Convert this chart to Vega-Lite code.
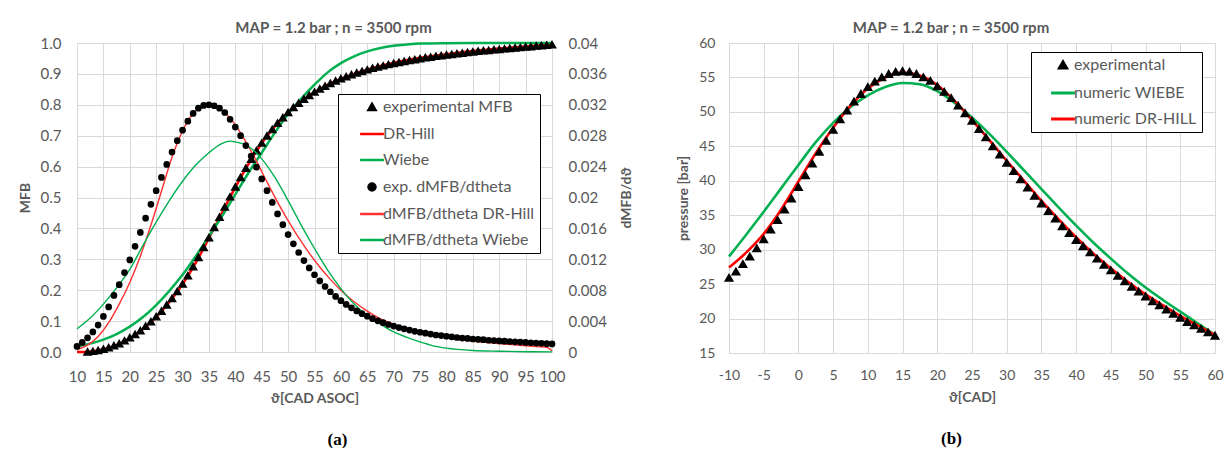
{
"$schema": "https://vega.github.io/schema/vega-lite/v6.json",
"background": "white",
"padding": {"left": 17, "top": 20, "right": 0, "bottom": 0},
"config": {
  "font": "Lato",
  "view": {"stroke": "#D9D9D9", "strokeWidth": 1},
  "axis": {"grid": true, "gridColor": "#D9D9D9", "gridWidth": 1, "ticks": false, "domain": false, "labelColor": "#595959", "labelFont": "Lato", "titleColor": "#595959", "titleFont": "Lato", "titleFontWeight": "bold", "labelOverlap": false, "labelFlush": false},
  "concat": {"spacing": 41},
  "title": {"font": "Lato", "fontSize": 15, "fontWeight": "bold", "color": "#595959", "anchor": "middle"}
},
"datasets": {
  "mfbExp": [
    {"s":"experimental MFB","t":12,"v":0.000},{"s":"experimental MFB","t":13,"v":0.002},{"s":"experimental MFB","t":14,"v":0.005},{"s":"experimental MFB","t":15,"v":0.009},{"s":"experimental MFB","t":16,"v":0.014},{"s":"experimental MFB","t":17,"v":0.020},{"s":"experimental MFB","t":18,"v":0.027},{"s":"experimental MFB","t":19,"v":0.036},{"s":"experimental MFB","t":20,"v":0.046},{"s":"experimental MFB","t":21,"v":0.057},{"s":"experimental MFB","t":22,"v":0.069},{"s":"experimental MFB","t":23,"v":0.083},{"s":"experimental MFB","t":24,"v":0.098},{"s":"experimental MFB","t":25,"v":0.114},{"s":"experimental MFB","t":26,"v":0.132},{"s":"experimental MFB","t":27,"v":0.152},{"s":"experimental MFB","t":28,"v":0.173},{"s":"experimental MFB","t":29,"v":0.196},{"s":"experimental MFB","t":30,"v":0.220},{"s":"experimental MFB","t":31,"v":0.247},{"s":"experimental MFB","t":32,"v":0.276},{"s":"experimental MFB","t":33,"v":0.306},{"s":"experimental MFB","t":34,"v":0.338},{"s":"experimental MFB","t":35,"v":0.370},{"s":"experimental MFB","t":36,"v":0.403},{"s":"experimental MFB","t":37,"v":0.436},{"s":"experimental MFB","t":38,"v":0.469},{"s":"experimental MFB","t":39,"v":0.502},{"s":"experimental MFB","t":40,"v":0.534},{"s":"experimental MFB","t":41,"v":0.565},{"s":"experimental MFB","t":42,"v":0.595},{"s":"experimental MFB","t":43,"v":0.624},{"s":"experimental MFB","t":44,"v":0.651},{"s":"experimental MFB","t":45,"v":0.676},{"s":"experimental MFB","t":46,"v":0.699},{"s":"experimental MFB","t":47,"v":0.720},{"s":"experimental MFB","t":48,"v":0.740},{"s":"experimental MFB","t":49,"v":0.758},{"s":"experimental MFB","t":50,"v":0.775},{"s":"experimental MFB","t":51,"v":0.791},{"s":"experimental MFB","t":52,"v":0.805},{"s":"experimental MFB","t":53,"v":0.818},{"s":"experimental MFB","t":54,"v":0.830},{"s":"experimental MFB","t":55,"v":0.841},{"s":"experimental MFB","t":56,"v":0.851},{"s":"experimental MFB","t":57,"v":0.860},{"s":"experimental MFB","t":58,"v":0.869},{"s":"experimental MFB","t":59,"v":0.877},{"s":"experimental MFB","t":60,"v":0.884},{"s":"experimental MFB","t":61,"v":0.891},{"s":"experimental MFB","t":62,"v":0.897},{"s":"experimental MFB","t":63,"v":0.903},{"s":"experimental MFB","t":64,"v":0.908},{"s":"experimental MFB","t":65,"v":0.913},{"s":"experimental MFB","t":66,"v":0.918},{"s":"experimental MFB","t":67,"v":0.922},{"s":"experimental MFB","t":68,"v":0.926},{"s":"experimental MFB","t":69,"v":0.930},{"s":"experimental MFB","t":70,"v":0.934},{"s":"experimental MFB","t":71,"v":0.937},{"s":"experimental MFB","t":72,"v":0.940},{"s":"experimental MFB","t":73,"v":0.943},{"s":"experimental MFB","t":74,"v":0.946},{"s":"experimental MFB","t":75,"v":0.949},{"s":"experimental MFB","t":76,"v":0.952},{"s":"experimental MFB","t":77,"v":0.954},{"s":"experimental MFB","t":78,"v":0.957},{"s":"experimental MFB","t":79,"v":0.959},{"s":"experimental MFB","t":80,"v":0.961},{"s":"experimental MFB","t":81,"v":0.963},{"s":"experimental MFB","t":82,"v":0.965},{"s":"experimental MFB","t":83,"v":0.967},{"s":"experimental MFB","t":84,"v":0.969},{"s":"experimental MFB","t":85,"v":0.971},{"s":"experimental MFB","t":86,"v":0.973},{"s":"experimental MFB","t":87,"v":0.975},{"s":"experimental MFB","t":88,"v":0.976},{"s":"experimental MFB","t":89,"v":0.978},{"s":"experimental MFB","t":90,"v":0.979},{"s":"experimental MFB","t":91,"v":0.981},{"s":"experimental MFB","t":92,"v":0.982},{"s":"experimental MFB","t":93,"v":0.984},{"s":"experimental MFB","t":94,"v":0.985},{"s":"experimental MFB","t":95,"v":0.987},{"s":"experimental MFB","t":96,"v":0.988},{"s":"experimental MFB","t":97,"v":0.990},{"s":"experimental MFB","t":98,"v":0.991},{"s":"experimental MFB","t":99,"v":0.993},{"s":"experimental MFB","t":100,"v":0.994}
  ],
  "mfbFit": [
    {"s":"DR-Hill","t":10,"v":0.000},{"s":"DR-Hill","t":12,"v":0.001},{"s":"DR-Hill","t":14,"v":0.005},{"s":"DR-Hill","t":16,"v":0.013},{"s":"DR-Hill","t":18,"v":0.026},{"s":"DR-Hill","t":20,"v":0.044},{"s":"DR-Hill","t":22,"v":0.067},{"s":"DR-Hill","t":24,"v":0.096},{"s":"DR-Hill","t":26,"v":0.131},{"s":"DR-Hill","t":28,"v":0.172},{"s":"DR-Hill","t":30,"v":0.219},{"s":"DR-Hill","t":32,"v":0.274},{"s":"DR-Hill","t":34,"v":0.336},{"s":"DR-Hill","t":36,"v":0.402},{"s":"DR-Hill","t":38,"v":0.468},{"s":"DR-Hill","t":40,"v":0.533},{"s":"DR-Hill","t":42,"v":0.594},{"s":"DR-Hill","t":44,"v":0.650},{"s":"DR-Hill","t":46,"v":0.699},{"s":"DR-Hill","t":48,"v":0.740},{"s":"DR-Hill","t":50,"v":0.775},{"s":"DR-Hill","t":52,"v":0.805},{"s":"DR-Hill","t":54,"v":0.830},{"s":"DR-Hill","t":56,"v":0.851},{"s":"DR-Hill","t":58,"v":0.869},{"s":"DR-Hill","t":60,"v":0.884},{"s":"DR-Hill","t":62.5,"v":0.900},{"s":"DR-Hill","t":65,"v":0.914},{"s":"DR-Hill","t":67.5,"v":0.926},{"s":"DR-Hill","t":70,"v":0.936},{"s":"DR-Hill","t":75,"v":0.952},{"s":"DR-Hill","t":80,"v":0.964},{"s":"DR-Hill","t":85,"v":0.974},{"s":"DR-Hill","t":90,"v":0.982},{"s":"DR-Hill","t":95,"v":0.989},{"s":"DR-Hill","t":100,"v":0.995},
    {"s":"Wiebe","t":10,"v":0.018},{"s":"Wiebe","t":12.5,"v":0.027},{"s":"Wiebe","t":15,"v":0.040},{"s":"Wiebe","t":17.5,"v":0.058},{"s":"Wiebe","t":20,"v":0.082},{"s":"Wiebe","t":22.5,"v":0.113},{"s":"Wiebe","t":25,"v":0.152},{"s":"Wiebe","t":27.5,"v":0.198},{"s":"Wiebe","t":30,"v":0.250},{"s":"Wiebe","t":32.5,"v":0.310},{"s":"Wiebe","t":35,"v":0.375},{"s":"Wiebe","t":37.5,"v":0.440},{"s":"Wiebe","t":40,"v":0.510},{"s":"Wiebe","t":42.5,"v":0.580},{"s":"Wiebe","t":45,"v":0.645},{"s":"Wiebe","t":47.5,"v":0.710},{"s":"Wiebe","t":50,"v":0.770},{"s":"Wiebe","t":52.5,"v":0.820},{"s":"Wiebe","t":55,"v":0.865},{"s":"Wiebe","t":57.5,"v":0.905},{"s":"Wiebe","t":60,"v":0.935},{"s":"Wiebe","t":62.5,"v":0.957},{"s":"Wiebe","t":65,"v":0.973},{"s":"Wiebe","t":67.5,"v":0.984},{"s":"Wiebe","t":70,"v":0.991},{"s":"Wiebe","t":72.5,"v":0.995},{"s":"Wiebe","t":75,"v":0.998},{"s":"Wiebe","t":80,"v":0.9995},{"s":"Wiebe","t":85,"v":1.0},{"s":"Wiebe","t":90,"v":1.0},{"s":"Wiebe","t":95,"v":1.0},{"s":"Wiebe","t":100,"v":1.0}
  ],
  "dExp": [
    {"s":"exp. dMFB/dtheta","t":10,"v":0.00072},{"s":"exp. dMFB/dtheta","t":11,"v":0.00124},{"s":"exp. dMFB/dtheta","t":12,"v":0.00184},{"s":"exp. dMFB/dtheta","t":13,"v":0.0026},{"s":"exp. dMFB/dtheta","t":14,"v":0.00348},{"s":"exp. dMFB/dtheta","t":15,"v":0.0046},{"s":"exp. dMFB/dtheta","t":16,"v":0.00584},{"s":"exp. dMFB/dtheta","t":17,"v":0.00732},{"s":"exp. dMFB/dtheta","t":18,"v":0.00872},{"s":"exp. dMFB/dtheta","t":19,"v":0.01028},{"s":"exp. dMFB/dtheta","t":20,"v":0.01192},{"s":"exp. dMFB/dtheta","t":21,"v":0.01368},{"s":"exp. dMFB/dtheta","t":22,"v":0.01548},{"s":"exp. dMFB/dtheta","t":23,"v":0.01732},{"s":"exp. dMFB/dtheta","t":24,"v":0.01912},{"s":"exp. dMFB/dtheta","t":25,"v":0.02088},{"s":"exp. dMFB/dtheta","t":26,"v":0.0226},{"s":"exp. dMFB/dtheta","t":27,"v":0.02428},{"s":"exp. dMFB/dtheta","t":28,"v":0.02588},{"s":"exp. dMFB/dtheta","t":29,"v":0.02736},{"s":"exp. dMFB/dtheta","t":30,"v":0.02872},{"s":"exp. dMFB/dtheta","t":31,"v":0.02988},{"s":"exp. dMFB/dtheta","t":32,"v":0.03088},{"s":"exp. dMFB/dtheta","t":33,"v":0.03156},{"s":"exp. dMFB/dtheta","t":34,"v":0.03192},{"s":"exp. dMFB/dtheta","t":35,"v":0.032},{"s":"exp. dMFB/dtheta","t":36,"v":0.03188},{"s":"exp. dMFB/dtheta","t":37,"v":0.03156},{"s":"exp. dMFB/dtheta","t":38,"v":0.031},{"s":"exp. dMFB/dtheta","t":39,"v":0.03012},{"s":"exp. dMFB/dtheta","t":40,"v":0.02912},{"s":"exp. dMFB/dtheta","t":41,"v":0.028},{"s":"exp. dMFB/dtheta","t":42,"v":0.02672},{"s":"exp. dMFB/dtheta","t":43,"v":0.02536},{"s":"exp. dMFB/dtheta","t":44,"v":0.02392},{"s":"exp. dMFB/dtheta","t":45,"v":0.0224},{"s":"exp. dMFB/dtheta","t":46,"v":0.02088},{"s":"exp. dMFB/dtheta","t":47,"v":0.01936},{"s":"exp. dMFB/dtheta","t":48,"v":0.01788},{"s":"exp. dMFB/dtheta","t":49,"v":0.01648},{"s":"exp. dMFB/dtheta","t":50,"v":0.0152},{"s":"exp. dMFB/dtheta","t":51,"v":0.014},{"s":"exp. dMFB/dtheta","t":52,"v":0.01288},{"s":"exp. dMFB/dtheta","t":53,"v":0.01184},{"s":"exp. dMFB/dtheta","t":54,"v":0.01088},{"s":"exp. dMFB/dtheta","t":55,"v":0.01},{"s":"exp. dMFB/dtheta","t":56,"v":0.0092},{"s":"exp. dMFB/dtheta","t":57,"v":0.00848},{"s":"exp. dMFB/dtheta","t":58,"v":0.0078},{"s":"exp. dMFB/dtheta","t":59,"v":0.0072},{"s":"exp. dMFB/dtheta","t":60,"v":0.00664},{"s":"exp. dMFB/dtheta","t":61,"v":0.00616},{"s":"exp. dMFB/dtheta","t":62,"v":0.00572},{"s":"exp. dMFB/dtheta","t":63,"v":0.00532},{"s":"exp. dMFB/dtheta","t":64,"v":0.00496},{"s":"exp. dMFB/dtheta","t":65,"v":0.00464},{"s":"exp. dMFB/dtheta","t":66,"v":0.00432},{"s":"exp. dMFB/dtheta","t":67,"v":0.00404},{"s":"exp. dMFB/dtheta","t":68,"v":0.0038},{"s":"exp. dMFB/dtheta","t":69,"v":0.00356},{"s":"exp. dMFB/dtheta","t":70,"v":0.00336},{"s":"exp. dMFB/dtheta","t":71,"v":0.00316},{"s":"exp. dMFB/dtheta","t":72,"v":0.003},{"s":"exp. dMFB/dtheta","t":73,"v":0.00284},{"s":"exp. dMFB/dtheta","t":74,"v":0.00268},{"s":"exp. dMFB/dtheta","t":75,"v":0.00256},{"s":"exp. dMFB/dtheta","t":76,"v":0.00244},{"s":"exp. dMFB/dtheta","t":77,"v":0.00232},{"s":"exp. dMFB/dtheta","t":78,"v":0.0022},{"s":"exp. dMFB/dtheta","t":79,"v":0.00212},{"s":"exp. dMFB/dtheta","t":80,"v":0.00204},{"s":"exp. dMFB/dtheta","t":81,"v":0.00196},{"s":"exp. dMFB/dtheta","t":82,"v":0.00188},{"s":"exp. dMFB/dtheta","t":83,"v":0.0018},{"s":"exp. dMFB/dtheta","t":84,"v":0.00176},{"s":"exp. dMFB/dtheta","t":85,"v":0.00168},{"s":"exp. dMFB/dtheta","t":86,"v":0.00164},{"s":"exp. dMFB/dtheta","t":87,"v":0.0016},{"s":"exp. dMFB/dtheta","t":88,"v":0.00152},{"s":"exp. dMFB/dtheta","t":89,"v":0.00148},{"s":"exp. dMFB/dtheta","t":90,"v":0.00144},{"s":"exp. dMFB/dtheta","t":91,"v":0.0014},{"s":"exp. dMFB/dtheta","t":92,"v":0.00136},{"s":"exp. dMFB/dtheta","t":93,"v":0.00132},{"s":"exp. dMFB/dtheta","t":94,"v":0.00128},{"s":"exp. dMFB/dtheta","t":95,"v":0.00124},{"s":"exp. dMFB/dtheta","t":96,"v":0.0012},{"s":"exp. dMFB/dtheta","t":97,"v":0.00116},{"s":"exp. dMFB/dtheta","t":98,"v":0.00112},{"s":"exp. dMFB/dtheta","t":99,"v":0.00108},{"s":"exp. dMFB/dtheta","t":100,"v":0.00104}
  ],
  "dFit": [
    {"s":"dMFB/dtheta DR-Hill","t":10,"v":0.00032},{"s":"dMFB/dtheta DR-Hill","t":12,"v":0.00088},{"s":"dMFB/dtheta DR-Hill","t":14,"v":0.002},{"s":"dMFB/dtheta DR-Hill","t":16,"v":0.0038},{"s":"dMFB/dtheta DR-Hill","t":18,"v":0.0062},{"s":"dMFB/dtheta DR-Hill","t":20,"v":0.009},{"s":"dMFB/dtheta DR-Hill","t":22,"v":0.0124},{"s":"dMFB/dtheta DR-Hill","t":24,"v":0.0164},{"s":"dMFB/dtheta DR-Hill","t":26,"v":0.0208},{"s":"dMFB/dtheta DR-Hill","t":28,"v":0.0252},{"s":"dMFB/dtheta DR-Hill","t":30,"v":0.0286},{"s":"dMFB/dtheta DR-Hill","t":32,"v":0.0309},{"s":"dMFB/dtheta DR-Hill","t":34,"v":0.0319},{"s":"dMFB/dtheta DR-Hill","t":35,"v":0.0321},{"s":"dMFB/dtheta DR-Hill","t":36,"v":0.0319},{"s":"dMFB/dtheta DR-Hill","t":38,"v":0.031},{"s":"dMFB/dtheta DR-Hill","t":40,"v":0.0294},{"s":"dMFB/dtheta DR-Hill","t":42,"v":0.0272},{"s":"dMFB/dtheta DR-Hill","t":44,"v":0.0247},{"s":"dMFB/dtheta DR-Hill","t":46,"v":0.022},{"s":"dMFB/dtheta DR-Hill","t":48,"v":0.0194},{"s":"dMFB/dtheta DR-Hill","t":50,"v":0.017},{"s":"dMFB/dtheta DR-Hill","t":52,"v":0.0148},{"s":"dMFB/dtheta DR-Hill","t":54,"v":0.0128},{"s":"dMFB/dtheta DR-Hill","t":56,"v":0.011},{"s":"dMFB/dtheta DR-Hill","t":58,"v":0.0094},{"s":"dMFB/dtheta DR-Hill","t":60,"v":0.008},{"s":"dMFB/dtheta DR-Hill","t":62.5,"v":0.0065},{"s":"dMFB/dtheta DR-Hill","t":65,"v":0.0053},{"s":"dMFB/dtheta DR-Hill","t":67.5,"v":0.0043},{"s":"dMFB/dtheta DR-Hill","t":70,"v":0.0036},{"s":"dMFB/dtheta DR-Hill","t":75,"v":0.0026},{"s":"dMFB/dtheta DR-Hill","t":80,"v":0.0018},{"s":"dMFB/dtheta DR-Hill","t":85,"v":0.0014},{"s":"dMFB/dtheta DR-Hill","t":90,"v":0.0011},{"s":"dMFB/dtheta DR-Hill","t":95,"v":0.0008},{"s":"dMFB/dtheta DR-Hill","t":99,"v":0.0006},{"s":"dMFB/dtheta DR-Hill","t":100,"v":0.00016},
    {"s":"dMFB/dtheta Wiebe","t":10,"v":0.003},{"s":"dMFB/dtheta Wiebe","t":12.5,"v":0.0044},{"s":"dMFB/dtheta Wiebe","t":15,"v":0.0062},{"s":"dMFB/dtheta Wiebe","t":17.5,"v":0.0083},{"s":"dMFB/dtheta Wiebe","t":20,"v":0.0107},{"s":"dMFB/dtheta Wiebe","t":22.5,"v":0.0138},{"s":"dMFB/dtheta Wiebe","t":25,"v":0.0168},{"s":"dMFB/dtheta Wiebe","t":27.5,"v":0.0196},{"s":"dMFB/dtheta Wiebe","t":30,"v":0.0221},{"s":"dMFB/dtheta Wiebe","t":32.5,"v":0.0242},{"s":"dMFB/dtheta Wiebe","t":35,"v":0.0258},{"s":"dMFB/dtheta Wiebe","t":37.5,"v":0.027},{"s":"dMFB/dtheta Wiebe","t":39,"v":0.0273},{"s":"dMFB/dtheta Wiebe","t":40,"v":0.0272},{"s":"dMFB/dtheta Wiebe","t":42.5,"v":0.0266},{"s":"dMFB/dtheta Wiebe","t":45,"v":0.025},{"s":"dMFB/dtheta Wiebe","t":47.5,"v":0.0226},{"s":"dMFB/dtheta Wiebe","t":50,"v":0.0196},{"s":"dMFB/dtheta Wiebe","t":52.5,"v":0.0164},{"s":"dMFB/dtheta Wiebe","t":55,"v":0.0134},{"s":"dMFB/dtheta Wiebe","t":57.5,"v":0.0106},{"s":"dMFB/dtheta Wiebe","t":60,"v":0.0082},{"s":"dMFB/dtheta Wiebe","t":62.5,"v":0.0062},{"s":"dMFB/dtheta Wiebe","t":65,"v":0.0047},{"s":"dMFB/dtheta Wiebe","t":67.5,"v":0.0036},{"s":"dMFB/dtheta Wiebe","t":70,"v":0.0026},{"s":"dMFB/dtheta Wiebe","t":72.5,"v":0.0019},{"s":"dMFB/dtheta Wiebe","t":75,"v":0.0013},{"s":"dMFB/dtheta Wiebe","t":77.5,"v":0.0008},{"s":"dMFB/dtheta Wiebe","t":80,"v":0.0005},{"s":"dMFB/dtheta Wiebe","t":85,"v":0.0002},{"s":"dMFB/dtheta Wiebe","t":90,"v":0.0001},{"s":"dMFB/dtheta Wiebe","t":95,"v":0.00004},{"s":"dMFB/dtheta Wiebe","t":100,"v":0.00002}
  ],
  "pExp": [
    {"s":"experimental","t":-10,"v":25.9},{"s":"experimental","t":-9,"v":26.8},{"s":"experimental","t":-8,"v":27.9},{"s":"experimental","t":-7,"v":29.0},{"s":"experimental","t":-6,"v":30.2},{"s":"experimental","t":-5,"v":31.5},{"s":"experimental","t":-4,"v":32.9},{"s":"experimental","t":-3,"v":34.3},{"s":"experimental","t":-2,"v":35.8},{"s":"experimental","t":-1,"v":37.4},{"s":"experimental","t":0,"v":39.1},{"s":"experimental","t":1,"v":40.8},{"s":"experimental","t":2,"v":42.5},{"s":"experimental","t":3,"v":44.2},{"s":"experimental","t":4,"v":45.8},{"s":"experimental","t":5,"v":47.4},{"s":"experimental","t":6,"v":48.9},{"s":"experimental","t":7,"v":50.2},{"s":"experimental","t":8,"v":51.5},{"s":"experimental","t":9,"v":52.6},{"s":"experimental","t":10,"v":53.6},{"s":"experimental","t":11,"v":54.4},{"s":"experimental","t":12,"v":55.0},{"s":"experimental","t":13,"v":55.5},{"s":"experimental","t":14,"v":55.8},{"s":"experimental","t":15,"v":55.9},{"s":"experimental","t":16,"v":55.8},{"s":"experimental","t":17,"v":55.5},{"s":"experimental","t":18,"v":55.0},{"s":"experimental","t":19,"v":54.5},{"s":"experimental","t":20,"v":53.7},{"s":"experimental","t":21,"v":52.9},{"s":"experimental","t":22,"v":52.0},{"s":"experimental","t":23,"v":50.9},{"s":"experimental","t":24,"v":49.8},{"s":"experimental","t":25,"v":48.7},{"s":"experimental","t":26,"v":47.5},{"s":"experimental","t":27,"v":46.3},{"s":"experimental","t":28,"v":45.0},{"s":"experimental","t":29,"v":43.8},{"s":"experimental","t":30,"v":42.6},{"s":"experimental","t":31,"v":41.4},{"s":"experimental","t":32,"v":40.2},{"s":"experimental","t":33,"v":39.0},{"s":"experimental","t":34,"v":37.8},{"s":"experimental","t":35,"v":36.7},{"s":"experimental","t":36,"v":35.6},{"s":"experimental","t":37,"v":34.5},{"s":"experimental","t":38,"v":33.4},{"s":"experimental","t":39,"v":32.4},{"s":"experimental","t":40,"v":31.4},{"s":"experimental","t":41,"v":30.5},{"s":"experimental","t":42,"v":29.6},{"s":"experimental","t":43,"v":28.7},{"s":"experimental","t":44,"v":27.8},{"s":"experimental","t":45,"v":27.0},{"s":"experimental","t":46,"v":26.2},{"s":"experimental","t":47,"v":25.4},{"s":"experimental","t":48,"v":24.6},{"s":"experimental","t":49,"v":23.9},{"s":"experimental","t":50,"v":23.2},{"s":"experimental","t":51,"v":22.5},{"s":"experimental","t":52,"v":21.9},{"s":"experimental","t":53,"v":21.3},{"s":"experimental","t":54,"v":20.7},{"s":"experimental","t":55,"v":20.1},{"s":"experimental","t":56,"v":19.5},{"s":"experimental","t":57,"v":19.0},{"s":"experimental","t":58,"v":18.5},{"s":"experimental","t":59,"v":18.0},{"s":"experimental","t":60,"v":17.5}
  ],
  "pFit": [
    {"s":"numeric WIEBE","t":-10,"v":29.0},{"s":"numeric WIEBE","t":-7.5,"v":32.2},{"s":"numeric WIEBE","t":-5,"v":35.5},{"s":"numeric WIEBE","t":-2.5,"v":38.9},{"s":"numeric WIEBE","t":0,"v":42.3},{"s":"numeric WIEBE","t":2.5,"v":45.6},{"s":"numeric WIEBE","t":5,"v":48.4},{"s":"numeric WIEBE","t":7.5,"v":50.7},{"s":"numeric WIEBE","t":10,"v":52.4},{"s":"numeric WIEBE","t":12.5,"v":53.6},{"s":"numeric WIEBE","t":15,"v":54.2},{"s":"numeric WIEBE","t":17.5,"v":54.0},{"s":"numeric WIEBE","t":20,"v":53.0},{"s":"numeric WIEBE","t":22.5,"v":51.3},{"s":"numeric WIEBE","t":25,"v":49.2},{"s":"numeric WIEBE","t":27.5,"v":46.8},{"s":"numeric WIEBE","t":30,"v":44.2},{"s":"numeric WIEBE","t":32.5,"v":41.5},{"s":"numeric WIEBE","t":35,"v":38.8},{"s":"numeric WIEBE","t":37.5,"v":36.1},{"s":"numeric WIEBE","t":40,"v":33.5},{"s":"numeric WIEBE","t":42.5,"v":31.0},{"s":"numeric WIEBE","t":45,"v":28.7},{"s":"numeric WIEBE","t":47.5,"v":26.5},{"s":"numeric WIEBE","t":50,"v":24.5},{"s":"numeric WIEBE","t":52.5,"v":22.7},{"s":"numeric WIEBE","t":55,"v":21.0},{"s":"numeric WIEBE","t":57.5,"v":19.3},{"s":"numeric WIEBE","t":60,"v":17.6},
    {"s":"numeric DR-HILL","t":-10,"v":27.4},{"s":"numeric DR-HILL","t":-7.5,"v":29.6},{"s":"numeric DR-HILL","t":-5,"v":32.3},{"s":"numeric DR-HILL","t":-2.5,"v":35.8},{"s":"numeric DR-HILL","t":0,"v":39.9},{"s":"numeric DR-HILL","t":2.5,"v":44.0},{"s":"numeric DR-HILL","t":5,"v":47.7},{"s":"numeric DR-HILL","t":7.5,"v":50.9},{"s":"numeric DR-HILL","t":10,"v":53.4},{"s":"numeric DR-HILL","t":12.5,"v":55.0},{"s":"numeric DR-HILL","t":15,"v":55.7},{"s":"numeric DR-HILL","t":17.5,"v":55.3},{"s":"numeric DR-HILL","t":20,"v":53.9},{"s":"numeric DR-HILL","t":22.5,"v":51.6},{"s":"numeric DR-HILL","t":25,"v":48.8},{"s":"numeric DR-HILL","t":27.5,"v":45.9},{"s":"numeric DR-HILL","t":30,"v":42.9},{"s":"numeric DR-HILL","t":32.5,"v":40.0},{"s":"numeric DR-HILL","t":35,"v":37.1},{"s":"numeric DR-HILL","t":37.5,"v":34.4},{"s":"numeric DR-HILL","t":40,"v":31.8},{"s":"numeric DR-HILL","t":42.5,"v":29.4},{"s":"numeric DR-HILL","t":45,"v":27.3},{"s":"numeric DR-HILL","t":47.5,"v":25.3},{"s":"numeric DR-HILL","t":50,"v":23.5},{"s":"numeric DR-HILL","t":52.5,"v":21.9},{"s":"numeric DR-HILL","t":55,"v":20.4},{"s":"numeric DR-HILL","t":57.5,"v":19.0},{"s":"numeric DR-HILL","t":60,"v":17.6}
  ]
},
"hconcat": [
  {
    "width": 475, "height": 309,
    "title": {"text": "MAP = 1.2 bar ; n = 3500 rpm", "dx": 19, "offset": 0},
    "layer": [
      {
        "layer": [
          {
            "data": {"name": "mfbFit"},
            "mark": {"type": "line", "strokeWidth": 2.5, "interpolate": "monotone"},
            "encoding": {
              "x": {"field": "t", "type": "quantitative", "scale": {"domain": [10, 100], "nice": false}, "axis": {"title": "ϑ[CAD ASOC]", "orient": "bottom", "values": [10,15,20,25,30,35,40,45,50,55,60,65,70,75,80,85,90,95,100], "labelPadding": 17, "labelFontSize": 15, "titleFontSize": 14, "titlePadding": 7}},
              "y": {"field": "v", "type": "quantitative", "scale": {"domain": [0, 1], "nice": false}, "axis": {"title": "MFB", "orient": "left", "values": [0,0.1,0.2,0.3,0.4,0.5,0.6,0.7,0.8,0.9,1], "format": ".1f", "labelPadding": 16, "labelFontSize": 15, "minExtent": 38, "maxExtent": 38, "titlePadding": 7, "titleFontSize": 14}},
              "stroke": {"field": "s", "type": "nominal", "scale": {"domain": ["experimental MFB","DR-Hill","Wiebe","exp. dMFB/dtheta","dMFB/dtheta DR-Hill","dMFB/dtheta Wiebe"], "range": ["#000000","#FF0000","#00B050","#000000","#FF3030","#00B050"]}, "legend": {"title": null, "orient": "none", "legendX": 261, "legendY": 51, "padding": 5, "rowPadding": 10, "symbolSize": 49, "symbolStrokeWidth": 2.5, "labelOffset": 3, "symbolOffset": 21, "labelFontSize": 16, "labelColor": "#595959", "labelFont": "Lato", "strokeColor": "#000000", "fillColor": "#FFFFFF", "labelLimit": 300}}
            }
          },
          {
            "data": {"name": "mfbExp"},
            "mark": {"type": "point", "filled": true, "size": 40, "opacity": 1},
            "encoding": {
              "x": {"field": "t", "type": "quantitative", "scale": {"domain": [10, 100], "nice": false}, "axis": {"title": "ϑ[CAD ASOC]", "orient": "bottom", "values": [10,15,20,25,30,35,40,45,50,55,60,65,70,75,80,85,90,95,100], "labelPadding": 17, "labelFontSize": 15, "titleFontSize": 14, "titlePadding": 7}},
              "y": {"field": "v", "type": "quantitative", "scale": {"domain": [0, 1], "nice": false}, "axis": {"title": "MFB", "orient": "left", "values": [0,0.1,0.2,0.3,0.4,0.5,0.6,0.7,0.8,0.9,1], "format": ".1f", "labelPadding": 16, "labelFontSize": 15, "minExtent": 38, "maxExtent": 38, "titlePadding": 7, "titleFontSize": 14}},
              "fill": {"field": "s", "type": "nominal", "scale": {"domain": ["experimental MFB","DR-Hill","Wiebe","exp. dMFB/dtheta","dMFB/dtheta DR-Hill","dMFB/dtheta Wiebe"], "range": ["#000000","#FF0000","#00B050","#000000","#FF3030","#00B050"]}, "legend": {"title": null, "orient": "none", "legendX": 261, "legendY": 51, "padding": 5, "rowPadding": 10, "symbolSize": 49, "symbolStrokeWidth": 2.5, "labelOffset": 3, "symbolOffset": 21, "labelFontSize": 16, "labelColor": "#595959", "labelFont": "Lato", "strokeColor": "#000000", "fillColor": "#FFFFFF", "labelLimit": 300}},
              "stroke": {"field": "s", "type": "nominal", "scale": {"domain": ["experimental MFB","DR-Hill","Wiebe","exp. dMFB/dtheta","dMFB/dtheta DR-Hill","dMFB/dtheta Wiebe"], "range": ["#000000","#FF0000","#00B050","#000000","#FF3030","#00B050"]}, "legend": {"title": null, "orient": "none", "legendX": 261, "legendY": 51, "padding": 5, "rowPadding": 10, "symbolSize": 49, "symbolStrokeWidth": 2.5, "labelOffset": 3, "symbolOffset": 21, "labelFontSize": 16, "labelColor": "#595959", "labelFont": "Lato", "strokeColor": "#000000", "fillColor": "#FFFFFF", "labelLimit": 300}},
              "shape": {"field": "s", "type": "nominal", "scale": {"domain": ["experimental MFB","DR-Hill","Wiebe","exp. dMFB/dtheta","dMFB/dtheta DR-Hill","dMFB/dtheta Wiebe"], "range": ["triangle-up","M-3.4,0H3.4","M-3.4,0H3.4","circle","M-3.4,0H3.4","M-3.4,0H3.4"]}, "legend": {"title": null, "orient": "none", "legendX": 261, "legendY": 51, "padding": 5, "rowPadding": 10, "symbolSize": 49, "symbolStrokeWidth": 2.5, "labelOffset": 3, "symbolOffset": 21, "labelFontSize": 16, "labelColor": "#595959", "labelFont": "Lato", "strokeColor": "#000000", "fillColor": "#FFFFFF", "labelLimit": 300}}
            }
          }
        ]
      },
      {
        "layer": [
          {
            "data": {"name": "dFit"},
            "mark": {"type": "line", "strokeWidth": 1.4, "interpolate": "monotone"},
            "encoding": {
              "x": {"field": "t", "type": "quantitative", "scale": {"domain": [10, 100], "nice": false}, "axis": {"title": "(a)", "orient": "bottom", "labels": false, "grid": false, "titleColor": "#000000", "titleFont": "Liberation Serif", "titleFontSize": 17, "titleX": 260, "titleY": 87, "titleBaseline": "middle", "titleAlign": "center"}},
              "y": {"field": "v", "type": "quantitative", "scale": {"domain": [0, 0.04], "nice": false}, "axis": {"title": "dMFB/dϑ", "orient": "right", "grid": false, "values": [0,0.004,0.008,0.012,0.016,0.02,0.024,0.028,0.032,0.036,0.04], "format": "~g", "labelPadding": 16, "labelFontSize": 15, "minExtent": 51, "maxExtent": 51, "titlePadding": 16, "titleFontSize": 14, "titleAngle": 270, "titleBaseline": "top"}},
              "stroke": {"field": "s", "type": "nominal", "scale": {"domain": ["experimental MFB","DR-Hill","Wiebe","exp. dMFB/dtheta","dMFB/dtheta DR-Hill","dMFB/dtheta Wiebe"], "range": ["#000000","#FF0000","#00B050","#000000","#FF3030","#00B050"]}, "legend": {"title": null, "orient": "none", "legendX": 261, "legendY": 51, "padding": 5, "rowPadding": 10, "symbolSize": 49, "symbolStrokeWidth": 2.5, "labelOffset": 3, "symbolOffset": 21, "labelFontSize": 16, "labelColor": "#595959", "labelFont": "Lato", "strokeColor": "#000000", "fillColor": "#FFFFFF", "labelLimit": 300}}
            }
          },
          {
            "data": {"name": "dExp"},
            "mark": {"type": "point", "filled": true, "size": 22, "opacity": 1},
            "encoding": {
              "x": {"field": "t", "type": "quantitative", "scale": {"domain": [10, 100], "nice": false}, "axis": {"title": "(a)", "orient": "bottom", "labels": false, "grid": false, "titleColor": "#000000", "titleFont": "Liberation Serif", "titleFontSize": 17, "titleX": 260, "titleY": 87, "titleBaseline": "middle", "titleAlign": "center"}},
              "y": {"field": "v", "type": "quantitative", "scale": {"domain": [0, 0.04], "nice": false}, "axis": {"title": "dMFB/dϑ", "orient": "right", "grid": false, "values": [0,0.004,0.008,0.012,0.016,0.02,0.024,0.028,0.032,0.036,0.04], "format": "~g", "labelPadding": 16, "labelFontSize": 15, "minExtent": 51, "maxExtent": 51, "titlePadding": 16, "titleFontSize": 14, "titleAngle": 270, "titleBaseline": "top"}},
              "fill": {"field": "s", "type": "nominal", "scale": {"domain": ["experimental MFB","DR-Hill","Wiebe","exp. dMFB/dtheta","dMFB/dtheta DR-Hill","dMFB/dtheta Wiebe"], "range": ["#000000","#FF0000","#00B050","#000000","#FF3030","#00B050"]}, "legend": {"title": null, "orient": "none", "legendX": 261, "legendY": 51, "padding": 5, "rowPadding": 10, "symbolSize": 49, "symbolStrokeWidth": 2.5, "labelOffset": 3, "symbolOffset": 21, "labelFontSize": 16, "labelColor": "#595959", "labelFont": "Lato", "strokeColor": "#000000", "fillColor": "#FFFFFF", "labelLimit": 300}},
              "stroke": {"field": "s", "type": "nominal", "scale": {"domain": ["experimental MFB","DR-Hill","Wiebe","exp. dMFB/dtheta","dMFB/dtheta DR-Hill","dMFB/dtheta Wiebe"], "range": ["#000000","#FF0000","#00B050","#000000","#FF3030","#00B050"]}, "legend": {"title": null, "orient": "none", "legendX": 261, "legendY": 51, "padding": 5, "rowPadding": 10, "symbolSize": 49, "symbolStrokeWidth": 2.5, "labelOffset": 3, "symbolOffset": 21, "labelFontSize": 16, "labelColor": "#595959", "labelFont": "Lato", "strokeColor": "#000000", "fillColor": "#FFFFFF", "labelLimit": 300}},
              "shape": {"field": "s", "type": "nominal", "scale": {"domain": ["experimental MFB","DR-Hill","Wiebe","exp. dMFB/dtheta","dMFB/dtheta DR-Hill","dMFB/dtheta Wiebe"], "range": ["triangle-up","M-3.4,0H3.4","M-3.4,0H3.4","circle","M-3.4,0H3.4","M-3.4,0H3.4"]}, "legend": {"title": null, "orient": "none", "legendX": 261, "legendY": 51, "padding": 5, "rowPadding": 10, "symbolSize": 49, "symbolStrokeWidth": 2.5, "labelOffset": 3, "symbolOffset": 21, "labelFontSize": 16, "labelColor": "#595959", "labelFont": "Lato", "strokeColor": "#000000", "fillColor": "#FFFFFF", "labelLimit": 300}}
            }
          }
        ]
      }
    ],
    "resolve": {"scale": {"y": "independent"}, "axis": {"x": "independent"}}
  },
  {
    "width": 486, "height": 310,
    "title": {"text": "MAP = 1.2 bar ; n = 3500 rpm", "dx": -21, "offset": 0},
    "layer": [
      {
        "data": {"name": "pFit"},
        "mark": {"type": "line", "strokeWidth": 2.6, "interpolate": "monotone"},
        "encoding": {
          "x": {"field": "t", "type": "quantitative", "scale": {"domain": [-10, 60], "nice": false}, "axis": {"title": "ϑ[CAD]", "orient": "bottom", "values": [-10,-5,0,5,10,15,20,25,30,35,40,45,50,55,60], "labelExpr": "'' + datum.value", "labelPadding": 15, "labelFontSize": 14, "titleFontSize": 14, "titlePadding": 8}},
          "y": {"field": "v", "type": "quantitative", "scale": {"domain": [15, 60], "nice": false}, "axis": {"title": "pressure [bar]", "values": [15,20,25,30,35,40,45,50,55,60], "labelPadding": 14, "labelFontSize": 14, "minExtent": 30, "maxExtent": 30, "titlePadding": 9, "titleFontSize": 14}},
          "stroke": {"field": "s", "type": "nominal", "scale": {"domain": ["experimental","numeric WIEBE","numeric DR-HILL"], "range": ["#000000","#00B050","#FF0000"]}, "legend": {"title": null, "orient": "none", "legendX": 302, "legendY": 9, "padding": 5, "rowPadding": 10, "symbolSize": 49, "symbolStrokeWidth": 3, "labelOffset": 3, "symbolOffset": 19, "labelFontSize": 16, "labelColor": "#595959", "labelFont": "Lato", "strokeColor": "#000000", "fillColor": "#FFFFFF", "labelLimit": 300}}
        }
      },
      {
        "data": {"name": "pExp"},
        "mark": {"type": "point", "filled": true, "size": 45, "opacity": 1},
        "encoding": {
          "x": {"field": "t", "type": "quantitative", "scale": {"domain": [-10, 60], "nice": false}, "axis": {"title": "(b)", "orient": "bottom", "labels": false, "grid": false, "titleColor": "#000000", "titleFont": "Liberation Serif", "titleFontSize": 17, "titleX": 222, "titleY": 85, "titleBaseline": "middle", "titleAlign": "center"}},
          "y": {"field": "v", "type": "quantitative", "scale": {"domain": [15, 60], "nice": false}, "axis": {"title": "pressure [bar]", "values": [15,20,25,30,35,40,45,50,55,60], "labelPadding": 14, "labelFontSize": 14, "minExtent": 30, "maxExtent": 30, "titlePadding": 9, "titleFontSize": 14}},
          "fill": {"field": "s", "type": "nominal", "scale": {"domain": ["experimental","numeric WIEBE","numeric DR-HILL"], "range": ["#000000","#00B050","#FF0000"]}, "legend": {"title": null, "orient": "none", "legendX": 302, "legendY": 9, "padding": 5, "rowPadding": 10, "symbolSize": 49, "symbolStrokeWidth": 3, "labelOffset": 3, "symbolOffset": 19, "labelFontSize": 16, "labelColor": "#595959", "labelFont": "Lato", "strokeColor": "#000000", "fillColor": "#FFFFFF", "labelLimit": 300}},
          "stroke": {"field": "s", "type": "nominal", "scale": {"domain": ["experimental","numeric WIEBE","numeric DR-HILL"], "range": ["#000000","#00B050","#FF0000"]}, "legend": {"title": null, "orient": "none", "legendX": 302, "legendY": 9, "padding": 5, "rowPadding": 10, "symbolSize": 49, "symbolStrokeWidth": 3, "labelOffset": 3, "symbolOffset": 19, "labelFontSize": 16, "labelColor": "#595959", "labelFont": "Lato", "strokeColor": "#000000", "fillColor": "#FFFFFF", "labelLimit": 300}},
          "shape": {"field": "s", "type": "nominal", "scale": {"domain": ["experimental","numeric WIEBE","numeric DR-HILL"], "range": ["triangle-up","M-3.4,0H3.4","M-3.4,0H3.4"]}, "legend": {"title": null, "orient": "none", "legendX": 302, "legendY": 9, "padding": 5, "rowPadding": 10, "symbolSize": 49, "symbolStrokeWidth": 3, "labelOffset": 3, "symbolOffset": 19, "labelFontSize": 16, "labelColor": "#595959", "labelFont": "Lato", "strokeColor": "#000000", "fillColor": "#FFFFFF", "labelLimit": 300}}
        }
      }
    ],
    "resolve": {"axis": {"x": "independent"}}
  }
],
"resolve": {"scale": {"fill": "independent", "stroke": "independent", "shape": "independent", "color": "independent"}, "legend": {"fill": "independent", "stroke": "independent", "shape": "independent"}}
}
